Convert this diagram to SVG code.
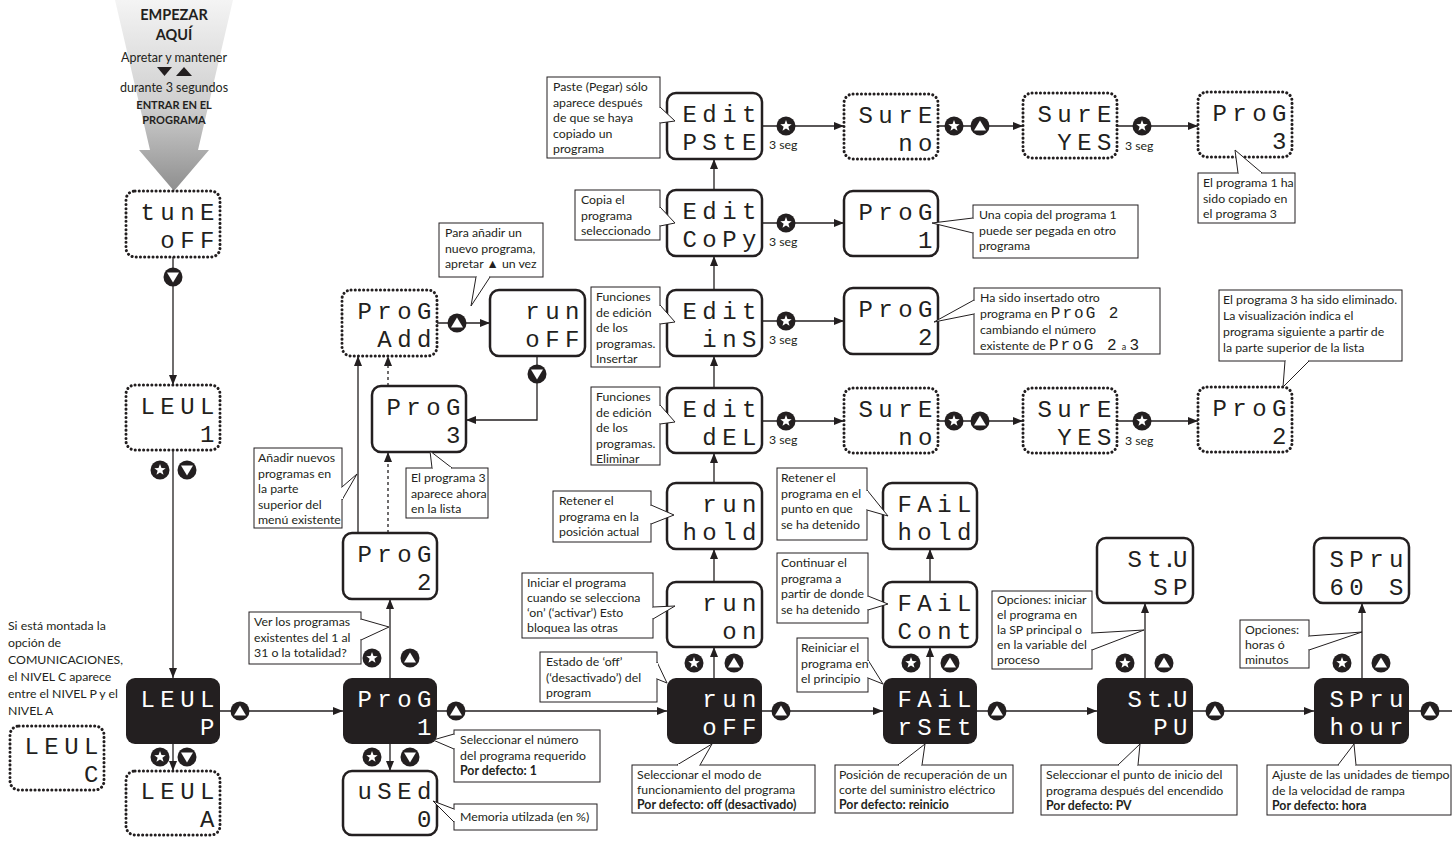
<svg xmlns="http://www.w3.org/2000/svg" width="1452" height="841" viewBox="0 0 1452 841">
<style>
.seg{font-family:"Liberation Mono","DejaVu Sans Mono",monospace;font-size:24px;letter-spacing:5.5px;text-anchor:end;fill:#231f20}
.w{fill:#fff}
.box{fill:#fff;stroke:#231f20;stroke-width:2.5}
.dot{fill:#fff;stroke:#231f20;stroke-width:3;stroke-dasharray:0.1 4.1;stroke-linecap:round}
.blk{fill:#231f20}
.co{fill:#fff;stroke:#231f20;stroke-width:1}
.cv{stroke:#fff;stroke-width:2}
.t{font-family:Lato,"Open Sans","Liberation Sans",sans-serif;font-size:12.3px;fill:#231f20}
.b{font-weight:bold}
.ln{stroke:#231f20;stroke-width:1.3;fill:none}
.da{stroke-dasharray:3 3}
.segi{font-family:"Liberation Mono","DejaVu Sans Mono",monospace;font-size:16px;letter-spacing:2px}
.st{font-family:Lato,"Open Sans","Liberation Sans",sans-serif;fill:#231f20;text-anchor:middle}
</style>
<defs>
<linearGradient id="gr" x1="0" y1="0" x2="0" y2="1">
<stop offset="0" stop-color="#f4f4f4"/>
<stop offset="0.55" stop-color="#cfcfcf"/>
<stop offset="1" stop-color="#8e8e8e"/>
</linearGradient>
<marker id="ah" viewBox="0 0 10 8" refX="10" refY="4" markerWidth="10" markerHeight="8" markerUnits="userSpaceOnUse" orient="auto"><path d="M0,0 L10,4 L0,8 z" fill="#231f20"/></marker>
<g id="bS"><circle r="9.5" fill="#231f20"/><polygon fill="#fff" points="0,-6 1.47,-2.02 5.71,-1.85 2.38,0.77 3.53,4.85 0,2.5 -3.53,4.85 -2.38,0.77 -5.71,-1.85 -1.47,-2.02"/></g>
<g id="bU"><circle r="9.5" fill="#231f20"/><polygon fill="#fff" points="0,-5.5 6,4.5 -6,4.5"/></g>
<g id="bD"><circle r="9.5" fill="#231f20"/><polygon fill="#fff" points="0,5.5 6,-4.5 -6,-4.5"/></g>
</defs>
<rect width="1452" height="841" fill="#fff"/>

<!-- start arrow -->
<g id="start">
<path d="M115,0 L233,0 L198,150 L209,150 L174,191 L139,150 L150,150 Z" fill="url(#gr)"/>
<text class="st b" x="174" y="20" font-size="14.5">EMPEZAR</text>
<text class="st b" x="174" y="40" font-size="14.5">AQUÍ</text>
<text class="st" x="174" y="62" font-size="12.5">Apretar y mantener</text>
<polygon points="157,67 172,67 164.5,76" fill="#231f20"/>
<polygon points="176,76 192,76 184,67" fill="#231f20"/>
<text class="st" x="174" y="92" font-size="12.5">durante 3 segundos</text>
<text class="st b" x="174" y="109" font-size="11">ENTRAR EN EL</text>
<text class="st b" x="174" y="124" font-size="11">PROGRAMA</text>
</g>

<!-- connectors -->
<g id="connectors">
<path class="ln" marker-end="url(#ah)" d="M173,257 V385"/>
<path class="ln" marker-end="url(#ah)" d="M173,450 V678"/>
<path class="ln" marker-end="url(#ah)" d="M173,744 V771"/>
<path class="ln" marker-end="url(#ah)" d="M220,711 H343"/>
<path class="ln" marker-end="url(#ah)" d="M437,711 H667"/>
<path class="ln" marker-end="url(#ah)" d="M762,711 H883"/>
<path class="ln" marker-end="url(#ah)" d="M977,711 H1097"/>
<path class="ln" marker-end="url(#ah)" d="M1193,711 H1314"/>
<path class="ln" d="M1409,711 H1452"/>
<path class="ln" marker-end="url(#ah)" d="M390,678 V599"/>
<path class="ln" marker-end="url(#ah)" d="M390,744 V771"/>
<path class="ln" marker-end="url(#ah)" d="M714,678 V647"/>
<path class="ln" marker-end="url(#ah)" d="M714,582 V549"/>
<path class="ln" marker-end="url(#ah)" d="M714,483 V453"/>
<path class="ln" marker-end="url(#ah)" d="M714,388 V356"/>
<path class="ln" marker-end="url(#ah)" d="M714,290 V256"/>
<path class="ln" marker-end="url(#ah)" d="M714,190 V159"/>
<path class="ln" marker-end="url(#ah)" d="M762,126 H844"/>
<path class="ln" marker-end="url(#ah)" d="M938,126 H1023"/>
<path class="ln" marker-end="url(#ah)" d="M1117,126 H1198"/>
<path class="ln" marker-end="url(#ah)" d="M762,223 H844"/>
<path class="ln" marker-end="url(#ah)" d="M762,321 H844"/>
<path class="ln" marker-end="url(#ah)" d="M762,421 H844"/>
<path class="ln" marker-end="url(#ah)" d="M938,421 H1023"/>
<path class="ln" marker-end="url(#ah)" d="M1117,421 H1198"/>
<path class="ln" marker-end="url(#ah)" d="M930,678 V647"/>
<path class="ln" marker-end="url(#ah)" d="M930,582 V549"/>
<path class="ln" marker-end="url(#ah)" d="M1145,678 V603"/>
<path class="ln" marker-end="url(#ah)" d="M1362,678 V603"/>
<path class="ln" marker-end="url(#ah)" d="M358,533 V356"/>
<path class="ln da" marker-end="url(#ah)" d="M388,533 V452"/>
<path class="ln da" marker-end="url(#ah)" d="M388,386 V356"/>
<path class="ln" marker-end="url(#ah)" d="M437,323 H490"/>
<path class="ln" marker-end="url(#ah)" d="M537,356 V420 H466"/>
<use href="#bD" x="173" y="277"/>
<use href="#bS" x="160" y="470"/><use href="#bD" x="187" y="470"/>
<use href="#bS" x="160" y="757"/><use href="#bD" x="187" y="757"/>
<use href="#bU" x="240" y="711"/>
<use href="#bU" x="456" y="711"/>
<use href="#bS" x="372" y="658"/><use href="#bU" x="410" y="658"/>
<use href="#bS" x="372" y="757"/><use href="#bD" x="410" y="757"/>
<use href="#bU" x="457" y="323"/>
<use href="#bD" x="537" y="374"/>
<use href="#bU" x="781" y="711"/>
<use href="#bU" x="997" y="711"/>
<use href="#bU" x="1215" y="711"/>
<use href="#bU" x="1430" y="711"/>
<use href="#bS" x="694" y="663"/><use href="#bU" x="734" y="663"/>
<use href="#bS" x="911" y="663"/><use href="#bU" x="950" y="663"/>
<use href="#bS" x="1125" y="663"/><use href="#bU" x="1164" y="663"/>
<use href="#bS" x="1342" y="663"/><use href="#bU" x="1381" y="663"/>
<use href="#bS" x="786" y="126"/><use href="#bS" x="786" y="223"/><use href="#bS" x="786" y="321"/><use href="#bS" x="786" y="421"/>
<use href="#bS" x="954" y="126"/><use href="#bU" x="980" y="126"/>
<use href="#bS" x="954" y="421"/><use href="#bU" x="980" y="421"/>
<use href="#bS" x="1142" y="126"/><use href="#bS" x="1142" y="421"/>
<text class="t" x="769" y="149" font-size="11.5">3 seg</text>
<text class="t" x="769" y="246" font-size="11.5">3 seg</text>
<text class="t" x="769" y="344" font-size="11.5">3 seg</text>
<text class="t" x="769" y="444" font-size="11.5">3 seg</text>
<text class="t" x="1125" y="150" font-size="11.5">3 seg</text>
<text class="t" x="1125" y="445" font-size="11.5">3 seg</text>
</g>

<!-- nodes -->
<g id="n-tune"><rect class="dot" x="126" y="191" width="94" height="66" rx="9"/><text class="seg" x="220" y="220">tunE</text><text class="seg" x="220" y="248">oFF</text></g>
<g id="n-leul1"><rect class="dot" x="126" y="385" width="94" height="65" rx="9"/><text class="seg" x="220" y="414">LEUL</text><text class="seg" x="220" y="442">1</text></g>
<g id="n-leulP"><rect class="blk" x="126" y="678" width="94" height="66" rx="9"/><text class="seg w" x="220" y="707">LEUL</text><text class="seg w" x="220" y="735">P</text></g>
<g id="n-leulA"><rect class="dot" x="126" y="771" width="94" height="64" rx="9"/><text class="seg" x="220" y="799">LEUL</text><text class="seg" x="220" y="827">A</text></g>
<g id="n-leulC"><rect class="dot" x="10" y="726" width="94" height="64" rx="9"/><text class="seg" x="104" y="754">LEUL</text><text class="seg" x="104" y="782">C</text></g>
<g id="n-prog1"><rect class="blk" x="343" y="678" width="94" height="66" rx="9"/><text class="seg w" x="437" y="707">ProG</text><text class="seg w" x="437" y="735">1</text></g>
<g id="n-prog2"><rect class="box" x="343" y="533" width="94" height="66" rx="9"/><text class="seg" x="437" y="562">ProG</text><text class="seg" x="437" y="590">2</text></g>
<g id="n-used"><rect class="box" x="343" y="771" width="94" height="64" rx="9"/><text class="seg" x="437" y="799">uSEd</text><text class="seg" x="437" y="827">0</text></g>
<g id="n-progadd"><rect class="dot" x="342" y="290" width="95" height="66" rx="9"/><text class="seg" x="437" y="319">ProG</text><text class="seg" x="437" y="347">Add</text></g>
<g id="n-runofftop"><rect class="box" x="490" y="290" width="95" height="66" rx="9"/><text class="seg" x="585" y="319">run</text><text class="seg" x="585" y="347">oFF</text></g>
<g id="n-prog3"><rect class="box" x="372" y="386" width="94" height="66" rx="9"/><text class="seg" x="466" y="415">ProG</text><text class="seg" x="466" y="443">3</text></g>
<g id="n-runoff"><rect class="blk" x="667" y="678" width="95" height="66" rx="9"/><text class="seg w" x="762" y="707">run</text><text class="seg w" x="762" y="735">oFF</text></g>
<g id="n-runon"><rect class="box" x="667" y="582" width="95" height="65" rx="9"/><text class="seg" x="762" y="611">run</text><text class="seg" x="762" y="639">on</text></g>
<g id="n-runhold"><rect class="box" x="667" y="483" width="95" height="66" rx="9"/><text class="seg" x="762" y="512">run</text><text class="seg" x="762" y="540">hold</text></g>
<g id="n-editdel"><rect class="box" x="667" y="388" width="95" height="65" rx="9"/><text class="seg" x="762" y="417">Edit</text><text class="seg" x="762" y="445">dEL</text></g>
<g id="n-editins"><rect class="box" x="667" y="290" width="95" height="66" rx="9"/><text class="seg" x="762" y="319">Edit</text><text class="seg" x="762" y="347">inS</text></g>
<g id="n-editcopy"><rect class="box" x="667" y="190" width="95" height="66" rx="9"/><text class="seg" x="762" y="219">Edit</text><text class="seg" x="762" y="247">CoPy</text></g>
<g id="n-editpste"><rect class="box" x="667" y="93" width="95" height="66" rx="9"/><text class="seg" x="762" y="122">Edit</text><text class="seg" x="762" y="150">PStE</text></g>
<g id="n-sureno1"><rect class="dot" x="844" y="94" width="94" height="65" rx="9"/><text class="seg" x="938" y="123">SurE</text><text class="seg" x="938" y="151">no</text></g>
<g id="n-sureyes1"><rect class="dot" x="1023" y="93" width="94" height="65" rx="9"/><text class="seg" x="1117" y="122">SurE</text><text class="seg" x="1117" y="150">YES</text></g>
<g id="n-prog3b"><rect class="dot" x="1198" y="92" width="94" height="65" rx="9"/><text class="seg" x="1292" y="121">ProG</text><text class="seg" x="1292" y="149">3</text></g>
<g id="n-progcopy1"><rect class="box" x="844" y="191" width="94" height="65" rx="9"/><text class="seg" x="938" y="220">ProG</text><text class="seg" x="938" y="248">1</text></g>
<g id="n-progins2"><rect class="box" x="844" y="288" width="94" height="66" rx="9"/><text class="seg" x="938" y="317">ProG</text><text class="seg" x="938" y="345">2</text></g>
<g id="n-sureno2"><rect class="dot" x="844" y="388" width="94" height="65" rx="9"/><text class="seg" x="938" y="417">SurE</text><text class="seg" x="938" y="445">no</text></g>
<g id="n-sureyes2"><rect class="dot" x="1023" y="388" width="94" height="65" rx="9"/><text class="seg" x="1117" y="417">SurE</text><text class="seg" x="1117" y="445">YES</text></g>
<g id="n-progdel2"><rect class="dot" x="1198" y="387" width="94" height="65" rx="9"/><text class="seg" x="1292" y="416">ProG</text><text class="seg" x="1292" y="444">2</text></g>
<g id="n-failhold"><rect class="box" x="883" y="483" width="94" height="66" rx="9"/><text class="seg" x="977" y="512">FAiL</text><text class="seg" x="977" y="540">hold</text></g>
<g id="n-failcont"><rect class="box" x="883" y="582" width="94" height="65" rx="9"/><text class="seg" x="977" y="611">FAiL</text><text class="seg" x="977" y="639">Cont</text></g>
<g id="n-failrset"><rect class="blk" x="883" y="678" width="94" height="66" rx="9"/><text class="seg w" x="977" y="707">FAiL</text><text class="seg w" x="977" y="735">rSEt</text></g>
<g id="n-stusp"><rect class="box" x="1097" y="538" width="96" height="65" rx="9"/><text class="seg" x="1193" y="567" dx="0 0 -5 -9">St.U</text><text class="seg" x="1193" y="595">SP</text></g>
<g id="n-stupu"><rect class="blk" x="1097" y="678" width="96" height="66" rx="9"/><text class="seg w" x="1193" y="707" dx="0 0 -5 -9">St.U</text><text class="seg w" x="1193" y="735">PU</text></g>
<g id="n-spru60"><rect class="box" x="1314" y="538" width="95" height="65" rx="9"/><text class="seg" x="1409" y="567">SPru</text><text class="seg" x="1409" y="595">60 S</text></g>
<g id="n-spruhour"><rect class="blk" x="1314" y="678" width="95" height="66" rx="9"/><text class="seg w" x="1409" y="707">SPru</text><text class="seg w" x="1409" y="735">hour</text></g>

<!-- left note -->
<text class="t" font-size="11.5"><tspan x="8" y="630">Si está montada la</tspan><tspan x="8" y="647">opción de</tspan><tspan x="8" y="664">COMUNICACIONES,</tspan><tspan x="8" y="681">el NIVEL C aparece</tspan><tspan x="8" y="698">entre el NIVEL P y el</tspan><tspan x="8" y="715">NIVEL A</tspan></text>

<!-- callouts -->
<g id="co-add"><rect class="co" x="439" y="223" width="104" height="54"/><path class="co" d="M476,277 L471,306 L490,277"/><line class="cv" x1="477" y1="277" x2="489" y2="277"/><text class="t"><tspan x="445" y="237">Para añadir un</tspan><tspan x="445" y="252.5">nuevo programa,</tspan><tspan x="445" y="268">apretar ▲ un vez</tspan></text></g>
<g id="co-nuevos"><rect class="co" x="254" y="448" width="88" height="80"/><path class="co" d="M342,487 L357,474 L342,500"/><line class="cv" x1="342" y1="488" x2="342" y2="499"/><text class="t"><tspan x="258" y="462">Añadir nuevos</tspan><tspan x="258" y="477.5">programas en</tspan><tspan x="258" y="493">la parte</tspan><tspan x="258" y="508.5">superior del</tspan><tspan x="258" y="524">menú existente</tspan></text></g>
<g id="co-p3"><rect class="co" x="406" y="468" width="82" height="50"/><path class="co" d="M432,468 L430,451 L452,468"/><line class="cv" x1="433" y1="468" x2="451" y2="468"/><text class="t"><tspan x="411" y="482">El programa 3</tspan><tspan x="411" y="497.5">aparece ahora</tspan><tspan x="411" y="513">en la lista</tspan></text></g>
<g id="co-ver"><rect class="co" x="249" y="612" width="112" height="52"/><path class="co" d="M361,619 L389,627 L361,640"/><line class="cv" x1="361" y1="620" x2="361" y2="639"/><text class="t"><tspan x="254" y="626">Ver los programas</tspan><tspan x="254" y="641.5">existentes del 1 al</tspan><tspan x="254" y="657">31 o la totalidad?</tspan></text></g>
<g id="co-selnum"><rect class="co" x="454" y="730" width="146" height="52"/><path class="co" d="M454,734 L433,740 L454,749"/><line class="cv" x1="454" y1="735" x2="454" y2="748"/><text class="t"><tspan x="460" y="744">Seleccionar el número</tspan><tspan x="460" y="759.5">del programa requerido</tspan><tspan x="460" y="775" class="b">Por defecto: 1</tspan></text></g>
<g id="co-mem"><rect class="co" x="454" y="804" width="143" height="26"/><path class="co" d="M454,809 L433,801 L454,822"/><line class="cv" x1="454" y1="810" x2="454" y2="821"/><text class="t" x="460" y="821">Memoria utilzada (en %)</text></g>
<g id="co-paste"><rect class="co" x="547" y="77" width="113" height="81"/><path class="co" d="M660,107 L675,121 L660,123"/><line class="cv" x1="660" y1="108" x2="660" y2="122"/><text class="t"><tspan x="553" y="91">Paste (Pegar) sólo</tspan><tspan x="553" y="106.5">aparece después</tspan><tspan x="553" y="122">de que se haya</tspan><tspan x="553" y="137.5">copiado un</tspan><tspan x="553" y="153">programa</tspan></text></g>
<g id="co-copia"><rect class="co" x="575" y="190" width="85" height="50"/><path class="co" d="M660,207 L675,223 L660,226"/><line class="cv" x1="660" y1="208" x2="660" y2="225"/><text class="t"><tspan x="581" y="204">Copia el</tspan><tspan x="581" y="219.5">programa</tspan><tspan x="581" y="235">seleccionado</tspan></text></g>
<g id="co-ins"><rect class="co" x="591" y="287" width="69" height="80"/><path class="co" d="M660,305 L675,322 L660,324"/><line class="cv" x1="660" y1="306" x2="660" y2="323"/><text class="t"><tspan x="596" y="301">Funciones</tspan><tspan x="596" y="316.5">de edición</tspan><tspan x="596" y="332">de los</tspan><tspan x="596" y="347.5">programas.</tspan><tspan x="596" y="363">Insertar</tspan></text></g>
<g id="co-del"><rect class="co" x="591" y="387" width="69" height="78"/><path class="co" d="M660,405 L675,422 L660,424"/><line class="cv" x1="660" y1="406" x2="660" y2="423"/><text class="t"><tspan x="596" y="401">Funciones</tspan><tspan x="596" y="416.5">de edición</tspan><tspan x="596" y="432">de los</tspan><tspan x="596" y="447.5">programas.</tspan><tspan x="596" y="463">Eliminar</tspan></text></g>
<g id="co-unacopia"><rect class="co" x="973" y="205" width="165" height="53"/><path class="co" d="M973,218 L932,223 L973,233"/><line class="cv" x1="973" y1="219" x2="973" y2="232"/><text class="t"><tspan x="979" y="219">Una copia del programa 1</tspan><tspan x="979" y="234.5">puede ser pegada en otro</tspan><tspan x="979" y="250">programa</tspan></text></g>
<g id="co-copiado"><rect class="co" x="1198" y="173" width="97" height="50"/><path class="co" d="M1238,173 L1235,150 L1262,173"/><line class="cv" x1="1239" y1="173" x2="1261" y2="173"/><text class="t"><tspan x="1203" y="187">El programa 1 ha</tspan><tspan x="1203" y="202.5">sido copiado en</tspan><tspan x="1203" y="218">el programa 3</tspan></text></g>
<g id="co-insertado"><rect class="co" x="974" y="288" width="186" height="66"/><path class="co" d="M974,300 L934,322 L974,314"/><line class="cv" x1="974" y1="301" x2="974" y2="313"/><text class="t"><tspan x="980" y="302">Ha sido insertado otro</tspan><tspan x="980" y="318">programa en <tspan class="segi">ProG 2</tspan></tspan><tspan x="980" y="334">cambiando el número</tspan><tspan x="980" y="350">existente de <tspan class="segi">ProG 2</tspan> <tspan font-size="9">a</tspan> <tspan class="segi">3</tspan></tspan></text></g>
<g id="co-eliminado"><rect class="co" x="1219" y="290" width="183" height="71"/><path class="co" d="M1285,361 L1283,387 L1309,361"/><line class="cv" x1="1286" y1="361" x2="1308" y2="361"/><text class="t"><tspan x="1223" y="304">El programa 3 ha sido eliminado.</tspan><tspan x="1223" y="320">La visualización indica el</tspan><tspan x="1223" y="336">programa siguiente a partir de</tspan><tspan x="1223" y="352">la parte superior de la lista</tspan></text></g>
<g id="co-runhold"><rect class="co" x="553" y="491" width="98" height="51"/><path class="co" d="M651,505 L674,515 L651,524"/><line class="cv" x1="651" y1="506" x2="651" y2="523"/><text class="t"><tspan x="559" y="505">Retener el</tspan><tspan x="559" y="520.5">programa en la</tspan><tspan x="559" y="536">posición actual</tspan></text></g>
<g id="co-runon"><rect class="co" x="522" y="573" width="131" height="65"/><path class="co" d="M653,607 L675,606 L653,619"/><line class="cv" x1="653" y1="608" x2="653" y2="618"/><text class="t"><tspan x="527" y="587">Iniciar el programa</tspan><tspan x="527" y="602">cuando se selecciona</tspan><tspan x="527" y="617">‘on’ (‘activar’) Esto</tspan><tspan x="527" y="632">bloquea las otras</tspan></text></g>
<g id="co-runoff"><rect class="co" x="540" y="652" width="117" height="50"/><path class="co" d="M657,662 L667,683 L657,679"/><line class="cv" x1="657" y1="663" x2="657" y2="678"/><text class="t"><tspan x="546" y="666">Estado de ‘off’</tspan><tspan x="546" y="681.5">(‘desactivado’) del</tspan><tspan x="546" y="697">program</tspan></text></g>
<g id="co-modo"><rect class="co" x="632" y="765" width="183" height="48"/><path class="co" d="M677,765 L712,744 L700,765"/><line class="cv" x1="678" y1="765" x2="699" y2="765"/><text class="t"><tspan x="637" y="779">Seleccionar el modo de</tspan><tspan x="637" y="794">funcionamiento del programa</tspan><tspan x="637" y="809" class="b">Por defecto: off (desactivado)</tspan></text></g>
<g id="co-failhold"><rect class="co" x="777" y="468" width="90" height="72"/><path class="co" d="M867,490 L888,516 L867,510"/><line class="cv" x1="867" y1="491" x2="867" y2="509"/><text class="t"><tspan x="781" y="482">Retener el</tspan><tspan x="781" y="497.5">programa en el</tspan><tspan x="781" y="513">punto en que</tspan><tspan x="781" y="528.5">se ha detenido</tspan></text></g>
<g id="co-failcont"><rect class="co" x="777" y="553" width="91" height="70"/><path class="co" d="M868,596 L888,604 L868,610"/><line class="cv" x1="868" y1="597" x2="868" y2="609"/><text class="t"><tspan x="781" y="567">Continuar el</tspan><tspan x="781" y="582.5">programa a</tspan><tspan x="781" y="598">partir de donde</tspan><tspan x="781" y="613.5">se ha detenido</tspan></text></g>
<g id="co-reiniciar"><rect class="co" x="797" y="638" width="71" height="54"/><path class="co" d="M868,660 L883,684 L868,678"/><line class="cv" x1="868" y1="661" x2="868" y2="677"/><text class="t"><tspan x="801" y="652">Reiniciar el</tspan><tspan x="801" y="667.5">programa en</tspan><tspan x="801" y="683">el principio</tspan></text></g>
<g id="co-posicion"><rect class="co" x="835" y="765" width="178" height="48"/><path class="co" d="M898,765 L925,744 L922,765"/><line class="cv" x1="899" y1="765" x2="921" y2="765"/><text class="t"><tspan x="839" y="779">Posición de recuperación de un</tspan><tspan x="839" y="794">corte del suministro eléctrico</tspan><tspan x="839" y="809" class="b">Por defecto: reinicio</tspan></text></g>
<g id="co-opciones1"><rect class="co" x="992" y="591" width="100" height="78"/><path class="co" d="M1092,633 L1144,630 L1092,650"/><line class="cv" x1="1092" y1="634" x2="1092" y2="649"/><text class="t"><tspan x="997" y="604">Opciones: iniciar</tspan><tspan x="997" y="619">el programa en</tspan><tspan x="997" y="634">la SP principal o</tspan><tspan x="997" y="649">en la variable del</tspan><tspan x="997" y="664">proceso</tspan></text></g>
<g id="co-opciones2"><rect class="co" x="1240" y="620" width="69" height="48"/><path class="co" d="M1309,636 L1362,632 L1309,650"/><line class="cv" x1="1309" y1="637" x2="1309" y2="649"/><text class="t"><tspan x="1245" y="634">Opciones:</tspan><tspan x="1245" y="649">horas ó</tspan><tspan x="1245" y="664">minutos</tspan></text></g>
<g id="co-punto"><rect class="co" x="1041" y="765" width="196" height="50"/><path class="co" d="M1118,765 L1140,744 L1138,765"/><line class="cv" x1="1119" y1="765" x2="1137" y2="765"/><text class="t"><tspan x="1046" y="779">Seleccionar el punto de inicio del</tspan><tspan x="1046" y="794.5">programa después del encendido</tspan><tspan x="1046" y="810" class="b">Por defecto: PV</tspan></text></g>
<g id="co-ajuste"><rect class="co" x="1267" y="765" width="184" height="50"/><path class="co" d="M1338,765 L1354,744 L1356,765"/><line class="cv" x1="1339" y1="765" x2="1355" y2="765"/><text class="t"><tspan x="1272" y="779">Ajuste de las unidades de tiempo</tspan><tspan x="1272" y="794.5">de la velocidad de rampa</tspan><tspan x="1272" y="810" class="b">Por defecto: hora</tspan></text></g>
</svg>
